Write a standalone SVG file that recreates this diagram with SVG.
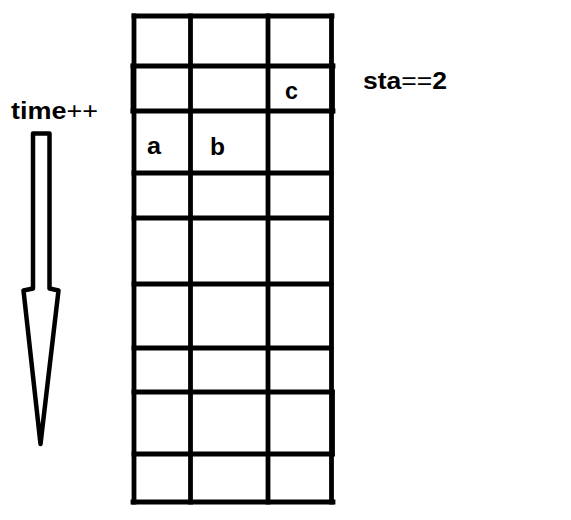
<svg xmlns="http://www.w3.org/2000/svg" width="571" height="520" viewBox="0 0 571 520">
<style>
.ln{stroke:#000;stroke-width:4.8;fill:none;stroke-linecap:square}
.ar{stroke:#000;stroke-width:4.5;fill:none;stroke-linejoin:round}
.t{font-family:"Liberation Sans",Arial,sans-serif;font-weight:bold;fill:#000}
.op{font-weight:normal}
</style>
<rect width="571" height="520" fill="#fff"/>
<g id="grid">
<g class="ln">
<line x1="134" y1="16" x2="332" y2="16"/>
<line x1="133" y1="66" x2="333" y2="66"/>
<line x1="133" y1="111" x2="333" y2="111"/>
<line x1="134" y1="173" x2="331" y2="173"/>
<line x1="134" y1="218" x2="331" y2="218"/>
<line x1="134" y1="284" x2="331" y2="284"/>
<line x1="134" y1="348" x2="331" y2="348"/>
<line x1="134" y1="392" x2="332" y2="392"/>
<line x1="134" y1="454" x2="332" y2="454"/>
<line x1="133" y1="502" x2="333" y2="502"/>
<line x1="134" y1="16" x2="134" y2="502"/>
<line x1="133" y1="66" x2="133" y2="111"/>
<line x1="190.5" y1="16" x2="190.5" y2="502"/>
<line x1="268" y1="16" x2="268" y2="502"/>
<line x1="331.5" y1="16" x2="331.5" y2="502"/>
<line x1="332.5" y1="66" x2="332.5" y2="111"/>
<line x1="332.5" y1="392" x2="332.5" y2="454"/>
</g>
</g>
<g id="labels">
<text class="t" x="147" y="154" font-size="24" textLength="14" lengthAdjust="spacingAndGlyphs">a</text>
<text class="t" x="210" y="155" font-size="24" textLength="15" lengthAdjust="spacingAndGlyphs">b</text>
<text class="t" x="285" y="99" font-size="24" textLength="13" lengthAdjust="spacingAndGlyphs">c</text>
<text class="t" x="363" y="89" font-size="23" textLength="84" lengthAdjust="spacingAndGlyphs">sta<tspan class="op">==</tspan>2</text>
<text class="t" x="11" y="119" font-size="23" textLength="87" lengthAdjust="spacingAndGlyphs">time<tspan class="op">++</tspan></text>
</g>
<g id="arrow">
<path class="ar" d="M33 133.5 L49.5 133.5 L49.5 288.5 L58.5 290.5 L40.5 444 L23.5 290.5 L33 288.5 Z"/>
</g>
</svg>
